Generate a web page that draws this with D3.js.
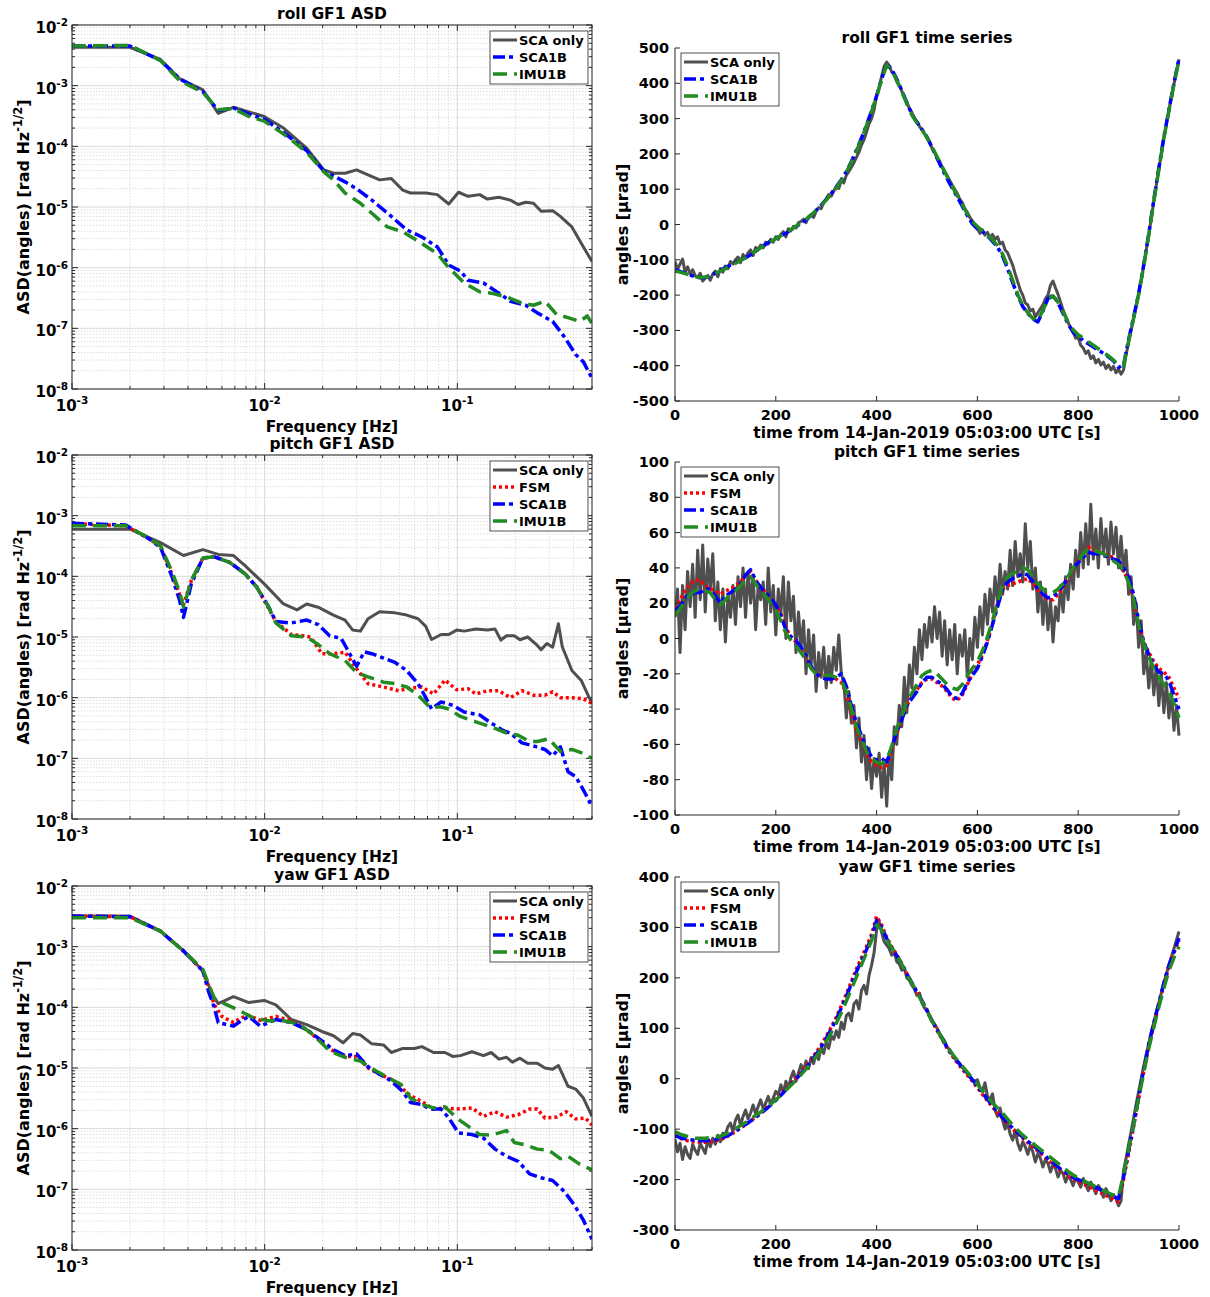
<!DOCTYPE html>
<html>
<head>
<meta charset="utf-8">
<script src="https://cdn.jsdelivr.net/npm/d3@7"></script>
<style>
  body { margin: 0; background: #fff; }
  text { font-family: "DejaVu Sans", sans-serif; font-weight: bold; fill: #000; }
</style>
</head>
<body>
<svg id="fig" width="1210" height="1297"></svg>
<script>
// ---------- tick labels ----------
const asdFreqTickExps = [-3, -2, -1];
const asdValTickExps = [-8, -7, -6, -5, -4, -3, -2];
const timeTicks = [0, 200, 400, 600, 800, 1000];
const rollTicks = [-500, -400, -300, -200, -100, 0, 100, 200, 300, 400, 500];
const pitchTicks = [-100, -80, -60, -40, -20, 0, 20, 40, 60, 80, 100];
const yawTicks = [-300, -200, -100, 0, 100, 200, 300, 400];

// ---------- roll ASD [rad/sqrt(Hz)] ----------
const rollAsdScaOnlyFreq = [0.001, 0.002, 0.00288, 0.00362, 0.00478, 0.00574, 0.00689, 0.00828, 0.00995, 0.01253, 0.01652, 0.02029, 0.02276, 0.02613, 0.03, 0.0344, 0.0395, 0.0454, 0.0521, 0.0571, 0.0686, 0.0787, 0.0903, 0.1014, 0.1137, 0.1306, 0.1432, 0.1644, 0.1886, 0.2068, 0.2266, 0.2484, 0.2722, 0.3124, 0.3425, 0.3931, 0.4513, 0.5];
const rollAsdScaOnly = [4.3e-3, 4.3e-3, 2.7e-3, 1.3e-3, 8.5e-4, 3.5e-4, 4.4e-4, 3.7e-4, 3.1e-4, 2.0e-4, 9.3e-5, 4.1e-5, 3.6e-5, 3.6e-5, 4.1e-5, 3.4e-5, 2.8e-5, 2.95e-5, 1.9e-5, 1.7e-5, 1.7e-5, 1.6e-5, 1.12e-5, 1.75e-5, 1.5e-5, 1.6e-5, 1.35e-5, 1.45e-5, 1.3e-5, 1.1e-5, 1.2e-5, 1.15e-5, 8.5e-6, 8.7e-6, 7.0e-6, 4.7e-6, 2.2e-6, 1.26e-6];
const rollAsdSca1bFreq = [0.001, 0.002, 0.00288, 0.00362, 0.00478, 0.00574, 0.00689, 0.00828, 0.00995, 0.01253, 0.01652, 0.02029, 0.02613, 0.03, 0.036, 0.0454, 0.0546, 0.0655, 0.0787, 0.0903, 0.1037, 0.1137, 0.1367, 0.1644, 0.1886, 0.2266, 0.26, 0.3124, 0.3586, 0.4116, 0.4513, 0.5];
const rollAsdSca1b = [4.5e-3, 4.5e-3, 2.6e-3, 1.3e-3, 8.0e-4, 3.9e-4, 4.3e-4, 3.4e-4, 2.8e-4, 1.7e-4, 8.5e-5, 3.9e-5, 2.6e-5, 2.0e-5, 1.3e-5, 7.0e-6, 4.2e-6, 3.2e-6, 2.2e-6, 1.1e-6, 8.8e-7, 6.2e-7, 5.6e-7, 3.8e-7, 2.8e-7, 2.4e-7, 1.8e-7, 1.3e-7, 7.3e-8, 3.7e-8, 2.8e-8, 1.5e-8];
const rollAsdImu1bFreq = [0.001, 0.002, 0.00288, 0.00362, 0.00478, 0.00574, 0.00689, 0.00828, 0.00995, 0.01253, 0.01652, 0.02029, 0.02276, 0.02613, 0.0314, 0.036, 0.0433, 0.0521, 0.0655, 0.0787, 0.0903, 0.1086, 0.1306, 0.1499, 0.1802, 0.2164, 0.2484, 0.285, 0.3271, 0.3754, 0.431, 0.4725, 0.5];
const rollAsdImu1b = [4.5e-3, 4.6e-3, 2.6e-3, 1.2e-3, 7.8e-4, 4.0e-4, 4.2e-4, 3.1e-4, 2.6e-4, 1.6e-4, 8.0e-5, 3.8e-5, 2.8e-5, 1.7e-5, 1.15e-5, 7.9e-6, 4.7e-6, 3.9e-6, 2.5e-6, 1.7e-6, 1.0e-6, 5.6e-7, 4.0e-7, 3.8e-7, 3.3e-7, 2.6e-7, 2.4e-7, 2.8e-7, 1.7e-7, 1.5e-7, 1.3e-7, 1.6e-7, 1.2e-7];

// ---------- pitch ASD ----------
const pitchAsdScaOnlyFreq = [0.001, 0.002, 0.00288, 0.00379, 0.00478, 0.00574, 0.00689, 0.00791, 0.00995, 0.01253, 0.01472, 0.01652, 0.01894, 0.02276, 0.02613, 0.02865, 0.0314, 0.0344, 0.0395, 0.0475, 0.0546, 0.0625, 0.0686, 0.0735, 0.0824, 0.0903, 0.0991, 0.1086, 0.1247, 0.1432, 0.157, 0.1682, 0.1802, 0.1975, 0.2115, 0.2318, 0.2541, 0.2722, 0.2916, 0.3124, 0.3347, 0.3504, 0.3931, 0.441, 0.4834, 0.5];
const pitchAsdScaOnly = [6.0e-4, 6.0e-4, 3.6e-4, 2.2e-4, 2.75e-4, 2.3e-4, 2.2e-4, 1.5e-4, 7.5e-5, 3.5e-5, 2.8e-5, 3.5e-5, 3.1e-5, 2.3e-5, 1.9e-5, 1.3e-5, 1.25e-5, 2.0e-5, 2.6e-5, 2.5e-5, 2.3e-5, 2.0e-5, 1.5e-5, 9.1e-6, 1.1e-5, 1.1e-5, 1.3e-5, 1.25e-5, 1.35e-5, 1.3e-5, 1.35e-5, 8.9e-6, 1.05e-5, 1.05e-5, 9e-6, 1.0e-5, 7.8e-6, 6.2e-6, 7.8e-6, 6.8e-6, 1.65e-5, 6.9e-6, 2.8e-6, 1.9e-6, 1.0e-6, 8.5e-7];
const pitchAsdFsmFreq = [0.001, 0.0019, 0.0025, 0.00288, 0.0033, 0.00362, 0.00379, 0.00416, 0.00478, 0.00548, 0.00658, 0.00791, 0.00908, 0.0104, 0.01143, 0.01374, 0.01578, 0.0173, 0.01983, 0.02276, 0.02613, 0.03, 0.0344, 0.0414, 0.0497, 0.0571, 0.0655, 0.0752, 0.0863, 0.0991, 0.1137, 0.1247, 0.1432, 0.1644, 0.1886, 0.2164, 0.2484, 0.285, 0.3124, 0.3425, 0.3931, 0.4513, 0.5];
const pitchAsdFsm = [7.4e-4, 6.8e-4, 4.2e-4, 3.1e-4, 1.1e-4, 5.0e-5, 3.4e-5, 8.5e-5, 2.0e-4, 2.1e-4, 1.7e-4, 1.1e-4, 6.7e-5, 3.1e-5, 1.8e-5, 1.1e-5, 1.05e-5, 1.0e-5, 5.3e-6, 5.3e-6, 5.6e-6, 3.0e-6, 1.7e-6, 1.5e-6, 1.3e-6, 1.45e-6, 1.5e-6, 1.15e-6, 1.95e-6, 1.35e-6, 1.4e-6, 1.15e-6, 1.3e-6, 1.3e-6, 1.0e-6, 1.3e-6, 1.1e-6, 1.1e-6, 1.25e-6, 1.0e-6, 1.0e-6, 9.6e-7, 8e-7];
const pitchAsdSca1bFreq = [0.001, 0.0019, 0.0025, 0.00288, 0.0033, 0.00362, 0.00379, 0.00416, 0.00478, 0.00548, 0.00658, 0.00791, 0.00908, 0.0104, 0.01143, 0.01374, 0.01652, 0.01894, 0.02174, 0.02495, 0.02674, 0.03, 0.0329, 0.036, 0.0414, 0.0475, 0.0546, 0.0625, 0.0686, 0.0735, 0.0824, 0.0946, 0.1086, 0.1306, 0.1499, 0.1721, 0.1886, 0.2164, 0.2484, 0.285, 0.3124, 0.3425, 0.3754, 0.4116, 0.4513, 0.5];
const pitchAsdSca1b = [7.5e-4, 7.0e-4, 4.2e-4, 3.0e-4, 1.0e-4, 4.0e-5, 2.1e-5, 7.5e-5, 2.0e-4, 2.1e-4, 1.7e-4, 1.1e-4, 6.7e-5, 3.3e-5, 1.8e-5, 1.7e-5, 1.9e-5, 1.6e-5, 1.05e-5, 9.5e-6, 6.4e-6, 3.3e-6, 5.7e-6, 5.3e-6, 4.5e-6, 3.8e-6, 2.8e-6, 1.7e-6, 1.0e-6, 6.5e-7, 8.5e-7, 7.5e-7, 5.8e-7, 5.2e-7, 3.8e-7, 2.9e-7, 2.6e-7, 1.8e-7, 1.6e-7, 1.4e-7, 1.1e-7, 1.55e-7, 6e-8, 5e-8, 3e-8, 1.6e-8];
const pitchAsdImu1bFreq = [0.001, 0.0019, 0.0025, 0.00288, 0.0033, 0.00362, 0.00379, 0.00416, 0.00478, 0.00548, 0.00658, 0.00791, 0.00908, 0.0104, 0.01143, 0.01374, 0.01652, 0.01894, 0.02174, 0.02613, 0.03, 0.0344, 0.0414, 0.0475, 0.0546, 0.0625, 0.0718, 0.0824, 0.0903, 0.1037, 0.1247, 0.1499, 0.1802, 0.2068, 0.2372, 0.26, 0.2984, 0.3425, 0.3931, 0.4513, 0.5];
const pitchAsdImu1b = [6.8e-4, 6.8e-4, 4.3e-4, 3.2e-4, 1.2e-4, 5.5e-5, 3.1e-5, 8.5e-5, 2.0e-4, 2.1e-4, 1.7e-4, 1.1e-4, 6.7e-5, 3.3e-5, 1.7e-5, 1.05e-5, 1.0e-5, 7.5e-6, 5.3e-6, 4.1e-6, 2.6e-6, 2.2e-6, 1.8e-6, 1.7e-6, 1.5e-6, 1.1e-6, 7.0e-7, 7.0e-7, 6.5e-7, 4.9e-7, 4.0e-7, 3.3e-7, 2.6e-7, 2.4e-7, 1.9e-7, 1.9e-7, 2.1e-7, 1.3e-7, 1.4e-7, 1.2e-7, 1.0e-7];

// ---------- yaw ASD ----------
const yawAsdScaOnlyFreq = [0.001, 0.002, 0.00288, 0.00379, 0.00478, 0.00536, 0.00574, 0.00689, 0.00828, 0.00995, 0.01143, 0.01374, 0.01652, 0.01983, 0.02276, 0.02553, 0.02865, 0.0314, 0.036, 0.0414, 0.0454, 0.0521, 0.0598, 0.0655, 0.0752, 0.0863, 0.0946, 0.1037, 0.1191, 0.1367, 0.1499, 0.1644, 0.1802, 0.193, 0.2115, 0.2318, 0.26, 0.285, 0.3124, 0.3347, 0.3754, 0.4116, 0.4513, 0.5];
const yawAsdScaOnly = [3.2e-3, 3.2e-3, 1.8e-3, 8.5e-4, 4.0e-4, 1.6e-4, 1.15e-4, 1.5e-4, 1.2e-4, 1.3e-4, 1.1e-4, 6.3e-5, 5.2e-5, 4.0e-5, 3.4e-5, 2.6e-5, 3.7e-5, 3.5e-5, 2.5e-5, 2.4e-5, 1.8e-5, 2.1e-5, 2.1e-5, 2.25e-5, 1.8e-5, 1.8e-5, 1.55e-5, 1.6e-5, 1.85e-5, 1.6e-5, 1.8e-5, 1.4e-5, 1.5e-5, 1.25e-5, 1.45e-5, 1.2e-5, 1.2e-5, 1.0e-5, 9.5e-6, 1.1e-5, 5.0e-6, 4.5e-6, 3.2e-6, 1.6e-6];
const yawAsdFsmFreq = [0.001, 0.002, 0.00288, 0.00379, 0.00478, 0.00512, 0.00548, 0.006, 0.00689, 0.00755, 0.00828, 0.0095, 0.01143, 0.01374, 0.01652, 0.01983, 0.02276, 0.02613, 0.03, 0.0344, 0.0395, 0.0454, 0.0521, 0.0571, 0.0655, 0.0752, 0.0863, 0.0991, 0.1191, 0.1367, 0.157, 0.1802, 0.2068, 0.2372, 0.26, 0.285, 0.3271, 0.3669, 0.4116, 0.4617, 0.5];
const yawAsdFsm = [3.2e-3, 3.1e-3, 1.8e-3, 8.5e-4, 4.0e-4, 2.1e-4, 1.1e-4, 7.1e-5, 5.6e-5, 6.7e-5, 7.3e-5, 6.1e-5, 7.1e-5, 6.0e-5, 4.3e-5, 2.6e-5, 1.9e-5, 1.55e-5, 1.55e-5, 1.0e-5, 7.9e-6, 6.5e-6, 4.5e-6, 3.5e-6, 2.8e-6, 2.1e-6, 2.2e-6, 2.1e-6, 2.2e-6, 1.6e-6, 1.9e-6, 1.55e-6, 1.7e-6, 2.1e-6, 2.1e-6, 1.5e-6, 1.55e-6, 1.9e-6, 1.45e-6, 1.5e-6, 1.15e-6];
const yawAsdSca1bFreq = [0.001, 0.002, 0.00288, 0.00379, 0.00478, 0.00512, 0.00548, 0.00574, 0.00689, 0.00755, 0.00828, 0.0095, 0.01143, 0.01374, 0.01652, 0.01983, 0.02276, 0.02613, 0.03, 0.0344, 0.0395, 0.0454, 0.0521, 0.0571, 0.0655, 0.0718, 0.0824, 0.0903, 0.1014, 0.1191, 0.1367, 0.157, 0.1802, 0.2068, 0.2372, 0.2722, 0.3124, 0.3586, 0.4022, 0.4513, 0.5];
const yawAsdSca1b = [3.2e-3, 3.1e-3, 1.8e-3, 8.5e-4, 4.0e-4, 1.8e-4, 9.9e-5, 5.6e-5, 4.9e-5, 6.0e-5, 7.1e-5, 4.9e-5, 6.3e-5, 5.6e-5, 4.3e-5, 2.8e-5, 2.0e-5, 1.6e-5, 1.7e-5, 1.05e-5, 7.9e-6, 6.1e-6, 4.1e-6, 2.7e-6, 2.5e-6, 2.1e-6, 2.1e-6, 1.5e-6, 8.5e-7, 8e-7, 7e-7, 4.6e-7, 3.5e-7, 2.9e-7, 1.8e-7, 1.55e-7, 1.4e-7, 9.3e-8, 5.7e-8, 3.1e-8, 1.5e-8];
const yawAsdImu1bFreq = [0.001, 0.002, 0.00288, 0.00379, 0.00478, 0.00548, 0.006, 0.00722, 0.00867, 0.0104, 0.01253, 0.01506, 0.01809, 0.02174, 0.02613, 0.0314, 0.0377, 0.0454, 0.0509, 0.0571, 0.0655, 0.0752, 0.0863, 0.0991, 0.1137, 0.1306, 0.1499, 0.1802, 0.1975, 0.2266, 0.26, 0.2984, 0.3425, 0.3754, 0.431, 0.5];
const yawAsdImu1b = [3.0e-3, 3.0e-3, 1.8e-3, 8.5e-4, 4.2e-4, 1.4e-4, 1.2e-4, 9.2e-5, 6.8e-5, 6.0e-5, 6.0e-5, 5.3e-5, 3.4e-5, 1.9e-5, 1.5e-5, 1.3e-5, 9e-6, 6.5e-6, 5.4e-6, 3.2e-6, 2.5e-6, 2.2e-6, 2.3e-6, 1.5e-6, 1.1e-6, 8e-7, 7.8e-7, 9.3e-7, 5.9e-7, 5.4e-7, 4.6e-7, 4.4e-7, 3.2e-7, 3.5e-7, 2.6e-7, 2.1e-7];

// ---------- time series [µrad]; SCA-only sampled every 5 s, others every 10 s ----------
const tsTimeFine = d3.range(0, 1001, 5);
const tsTimeCoarse = d3.range(0, 1001, 10);

const rollTsScaOnly = [
  -105,-128,-112,-98,-135,-120,-140,-128,-145,-150,-138,-160,-152,-145,-158,-140,-132,-148,-125,-135,
  -118,-125,-105,-112,-100,-92,-108,-85,-95,-80,-72,-88,-65,-70,-58,-66,-50,-55,-42,-50,
  -35,-42,-28,-20,-35,-12,-18,-5,-10,5,8,15,5,22,28,20,38,48,45,62,
  72,85,80,95,108,102,125,118,140,150,162,175,190,205,225,240,262,285,300,325,
  365,390,420,448,460,450,432,425,405,395,378,360,345,330,318,300,292,278,268,258,
  245,235,215,205,188,180,162,150,138,125,112,100,88,72,62,45,35,20,10,-5,
  -12,-25,-15,-30,-22,-38,-28,-42,-35,-55,-50,-72,-80,-98,-115,-140,-162,-185,-200,-222,
  -228,-245,-240,-262,-250,-238,-228,-210,-200,-172,-160,-180,-198,-220,-242,-260,-278,-292,-305,-322,
  -320,-342,-350,-365,-358,-380,-372,-392,-382,-398,-390,-408,-398,-412,-402,-420,-410,-424,-412,-368,
  -335,-300,-265,-232,-195,-158,-115,-72,-30,18,65,112,158,200,245,285,325,360,398,435,
  468];
const rollTsSca1b = [
  -128,-133,-138,-143,-148,-151,-150,-145,-138,-130,
  -122,-115,-108,-101,-94,-86,-76,-66,-56,-47,
  -39,-31,-25,-15,-6,3,13,26,40,55,
  71,88,107,127,150,178,211,245,282,322,
  364,412,455,440,412,380,345,312,290,270,
  248,218,188,158,130,103,78,52,25,2,
  -12,-20,-32,-48,-64,-90,-125,-165,-202,-232,
  -252,-268,-276,-245,-210,-200,-222,-252,-282,-305,
  -318,-328,-338,-347,-356,-365,-375,-386,-405,-398,
  -326,-262,-195,-115,-26,70,160,248,325,400,
  470];
const rollTsImu1b = [
  -132,-135,-139,-143,-147,-150,-149,-145,-139,-132,
  -125,-118,-110,-102,-94,-85,-75,-66,-57,-48,
  -40,-32,-24,-15,-5,5,15,27,40,54,
  69,86,104,125,148,176,208,243,280,320,
  362,410,452,438,408,376,342,310,288,268,
  246,220,192,164,136,108,82,56,30,8,
  -6,-18,-30,-44,-60,-84,-118,-158,-198,-230,
  -250,-266,-272,-243,-212,-202,-220,-248,-276,-298,
  -312,-322,-332,-342,-352,-362,-372,-384,-398,-400,
  -330,-265,-198,-118,-30,65,155,245,322,398,
  465];

const pitchTsScaOnly = [
  12,28,-8,30,5,38,18,42,12,50,22,53,15,45,28,48,10,32,5,28,
  -2,25,12,30,8,35,18,40,12,38,20,36,5,30,22,32,8,40,15,30,
  2,28,14,35,0,32,10,24,-8,15,-5,10,-20,5,-15,2,-30,-8,-22,-5,
  -28,-10,-25,-5,-18,2,-20,-25,-45,-30,-48,-38,-62,-45,-70,-55,-80,-62,-85,-68,
  -78,-65,-90,-70,-95,-65,-80,-50,-60,-38,-50,-22,-42,-15,-28,-5,-20,5,-12,8,
  -5,12,-2,18,0,15,-10,10,-15,5,-12,8,-20,2,-10,5,-22,0,-12,12,
  -5,18,2,25,8,28,15,35,20,42,25,38,28,50,30,55,35,48,32,65,
  40,55,28,40,15,32,8,28,5,22,-2,18,10,30,15,35,22,42,28,50,
  35,60,40,65,42,76,45,62,40,68,48,62,42,66,48,63,40,58,38,50,
  25,35,8,20,-5,10,-20,-8,-28,-12,-32,-15,-38,-20,-42,-25,-45,-30,-52,-38,
  -55];
const pitchTsFsm = [
  17,22,27,31,33,33,30,28,27,25,
  27,28,30,32,36,38,33,29,26,22,
  19,14,6,1,-2,-6,-11,-16,-20,-21,
  -22,-22,-23,-25,-31,-42,-52,-58,-65,-70,
  -72,-73,-72,-64,-54,-46,-38,-33,-29,-25,
  -23,-23,-25,-27,-30,-34,-35,-32,-26,-20,
  -15,-9,-1,8,20,28,30,31,32,33,
  34,31,27,24,22,22,25,29,34,39,
  44,48,52,50,49,48,47,46,43,38,
  33,22,8,-2,-8,-13,-17,-19,-22,-28,
  -34];
const pitchTsSca1b = [
  16,18,23,25,26,26,28,28,24,20,
  24,26,28,31,36,39,33,29,26,23,
  19,13,5,1,-1,-5,-10,-16,-20,-22,
  -23,-23,-22,-20,-27,-38,-48,-55,-62,-67,
  -69,-68,-70,-62,-53,-46,-38,-34,-30,-25,
  -22,-22,-24,-26,-29,-33,-34,-31,-25,-21,
  -17,-10,-2,8,18,28,32,34,35,37,
  36,32,28,25,23,24,26,30,35,40,
  43,46,49,48,48,47,46,45,44,40,
  35,25,10,-2,-9,-15,-19,-20,-24,-32,
  -40];
const pitchTsImu1b = [
  13,17,21,25,27,28,27,26,22,19,
  22,25,27,30,33,35,31,27,24,20,
  16,10,3,-1,-4,-8,-12,-17,-20,-21,
  -21,-21,-22,-24,-30,-40,-50,-57,-64,-68,
  -70,-71,-69,-61,-51,-44,-36,-31,-26,-21,
  -19,-18,-20,-23,-26,-28,-29,-26,-21,-17,
  -13,-7,1,10,21,30,35,37,38,40,
  39,35,31,28,26,26,28,31,35,40,
  44,48,51,50,49,48,46,44,42,38,
  32,22,8,-3,-10,-17,-22,-26,-30,-37,
  -45];

const yawTsScaOnly = [
  -120,-145,-128,-160,-135,-150,-158,-130,-142,-150,-128,-138,-148,-122,-135,-118,-130,-112,-125,-108,
  -110,-95,-88,-105,-82,-72,-92,-75,-62,-80,-68,-52,-70,-55,-42,-60,-48,-35,-52,-38,
  -25,-32,-12,-28,-5,-18,2,15,-5,12,28,15,35,20,42,30,50,38,62,50,
  72,60,85,78,95,82,112,98,125,130,115,148,155,138,175,185,168,205,225,250,
  295,312,290,272,265,258,245,250,232,228,215,220,200,195,185,178,165,170,150,140,
  138,125,115,108,100,90,82,75,62,58,50,42,35,30,22,18,10,4,-2,-5,
  -2,-18,-25,-8,-35,-42,-30,-62,-75,-58,-82,-100,-88,-110,-122,-102,-128,-142,-125,-135,
  -150,-132,-145,-165,-148,-158,-175,-160,-168,-185,-170,-178,-195,-182,-188,-205,-192,-200,-212,-195,
  -205,-215,-198,-210,-222,-205,-215,-228,-212,-220,-235,-218,-228,-242,-230,-238,-252,-242,-182,-158,
  -130,-105,-78,-50,-25,0,25,48,70,92,112,132,150,170,190,208,225,242,258,275,
  292];
const yawTsFsm = [
  -112,-118,-122,-124,-125,-126,-126,-125,-123,-121,
  -117,-111,-105,-98,-91,-84,-76,-68,-59,-50,
  -41,-31,-20,-9,2,13,25,38,52,67,
  84,102,122,144,168,193,218,240,262,286,
  322,305,280,262,246,228,208,190,172,154,
  134,114,96,78,60,45,32,19,7,-5,
  -18,-31,-44,-56,-68,-79,-90,-100,-109,-118,
  -127,-135,-143,-152,-161,-170,-178,-186,-193,-199,
  -204,-209,-214,-219,-224,-229,-234,-239,-244,-200,
  -148,-95,-40,14,64,106,146,186,222,250,
  275];
const yawTsSca1b = [
  -113,-117,-119,-121,-122,-123,-123,-122,-121,-119,
  -115,-110,-104,-97,-91,-84,-77,-69,-61,-52,
  -43,-33,-22,-11,-1,10,22,35,48,63,
  80,98,118,140,163,188,212,234,256,280,
  314,300,278,260,244,228,208,190,172,155,
  135,115,98,80,62,47,35,22,10,-2,
  -15,-28,-41,-53,-66,-77,-88,-98,-107,-116,
  -124,-132,-140,-149,-158,-167,-175,-183,-190,-196,
  -200,-204,-208,-213,-218,-223,-228,-233,-238,-195,
  -143,-90,-35,18,68,110,150,190,225,252,
  279];
const yawTsImu1b = [
  -105,-110,-113,-116,-118,-118,-118,-117,-116,-114,
  -110,-105,-99,-93,-87,-80,-73,-66,-58,-50,
  -42,-33,-23,-13,-3,8,19,31,44,58,
  74,91,110,131,154,178,202,226,250,274,
  305,296,276,260,245,227,207,189,171,153,
  134,114,97,80,63,49,37,25,13,1,
  -11,-24,-36,-48,-58,-68,-80,-92,-102,-112,
  -120,-128,-136,-144,-152,-160,-168,-176,-184,-191,
  -197,-202,-207,-212,-217,-222,-227,-231,-234,-190,
  -140,-90,-38,12,60,102,142,180,214,240,
  262];

// ---------- line styles ----------
const seriesStyle = {
  'SCA only': { color: '#4f4f4f', width: 3,   dash: null },
  'FSM':      { color: '#ff0000', width: 3.5, dash: '3,3' },
  'SCA1B':    { color: '#0000ff', width: 3.5, dash: '12,4,4,4' },
  'IMU1B':    { color: '#228b22', width: 3.5, dash: '14,7' }
};

const svg = d3.select('#fig');
const axisColor = '#262626';
let clipId = 0;

function addClip(x, y, w, h) {
  const id = 'clip' + (clipId++);
  svg.append('clipPath').attr('id', id).append('rect')
    .attr('x', x).attr('y', y).attr('width', w).attr('height', h);
  return 'url(#' + id + ')';
}

function styleLine(sel, name) {
  const s = seriesStyle[name];
  sel.attr('fill', 'none').attr('stroke', s.color).attr('stroke-width', s.width)
    .attr('stroke-linejoin', 'round')
    .attr('stroke-dasharray', s.dash);
}

function pow10(sel, exp) {
  sel.text('10');
  sel.append('tspan').attr('dy', -7).attr('font-size', 10.5).text(String(exp));
}

function drawLegend(x, y, names) {
  const rowH = 17, w = 98, h = names.length * rowH + 2;
  const g = svg.append('g');
  g.append('rect').attr('x', x).attr('y', y).attr('width', w).attr('height', h)
    .attr('fill', '#fff').attr('stroke', axisColor).attr('stroke-width', 0.8);
  names.forEach((n, i) => {
    const cy = y + 9 + i * rowH;
    g.append('line').attr('x1', x + 3).attr('x2', x + 27).attr('y1', cy).attr('y2', cy)
      .call(styleLine, n);
    g.append('text').attr('x', x + 29).attr('y', cy + 5).attr('font-size', 13).text(n);
  });
}

// ---------- ASD panel (log-log, boxed, gridded) ----------
function drawAsd(top, title, series) {
  const x0 = 72, x1 = 592, y0 = top, y1 = top + 364;
  const x = d3.scaleLog().domain([1e-3, 0.5]).range([x0, x1]);
  const y = d3.scaleLog().domain([1e-8, 1e-2]).range([y1, y0]);
  const g = svg.append('g');
  const isMajor = v => Math.abs(Math.log10(v) - Math.round(Math.log10(v))) < 1e-6;

  // minor + major grid
  x.ticks().forEach(v => {
    g.append('line').attr('x1', x(v)).attr('x2', x(v)).attr('y1', y0).attr('y2', y1)
      .attr('stroke', isMajor(v) ? '#dadada' : '#dedede').attr('stroke-width', 1)
      .attr('stroke-dasharray', isMajor(v) ? null : '1.5,1.5');
  });
  y.ticks().forEach(v => {
    g.append('line').attr('x1', x0).attr('x2', x1).attr('y1', y(v)).attr('y2', y(v))
      .attr('stroke', isMajor(v) ? '#dadada' : '#dedede').attr('stroke-width', 1)
      .attr('stroke-dasharray', isMajor(v) ? null : '1.5,1.5');
  });

  // inward ticks on all sides
  x.ticks().forEach(v => {
    const L = isMajor(v) ? 6 : 3;
    g.append('line').attr('x1', x(v)).attr('x2', x(v)).attr('y1', y1).attr('y2', y1 - L).attr('stroke', axisColor);
    g.append('line').attr('x1', x(v)).attr('x2', x(v)).attr('y1', y0).attr('y2', y0 + L).attr('stroke', axisColor);
  });
  y.ticks().forEach(v => {
    const L = isMajor(v) ? 6 : 3;
    g.append('line').attr('x1', x0).attr('x2', x0 + L).attr('y1', y(v)).attr('y2', y(v)).attr('stroke', axisColor);
    g.append('line').attr('x1', x1).attr('x2', x1 - L).attr('y1', y(v)).attr('y2', y(v)).attr('stroke', axisColor);
  });

  // curves
  const clip = addClip(x0, y0, x1 - x0, y1 - y0);
  const line = d3.line().x(d => x(d[0])).y(d => y(d[1]));
  const cg = g.append('g').attr('clip-path', clip);
  series.forEach(s => {
    cg.append('path').datum(d3.zip(s.freq, s.val)).attr('d', line).call(styleLine, s.name);
  });

  g.append('rect').attr('x', x0).attr('y', y0).attr('width', x1 - x0).attr('height', y1 - y0)
    .attr('fill', 'none').attr('stroke', axisColor).attr('stroke-width', 1);

  // tick labels
  asdFreqTickExps.forEach(e => {
    g.append('text').attr('x', x(Math.pow(10, e))).attr('y', y1 + 22)
      .attr('text-anchor', 'middle').attr('font-size', 15).call(pow10, e);
  });
  asdValTickExps.forEach(e => {
    g.append('text').attr('x', x0 - 4).attr('y', y(Math.pow(10, e)) + 8)
      .attr('text-anchor', 'end').attr('font-size', 15).call(pow10, e);
  });

  // labels + title
  g.append('text').attr('x', (x0 + x1) / 2).attr('y', y0 - 6).attr('text-anchor', 'middle')
    .attr('font-size', 15.5).text(title);
  g.append('text').attr('x', (x0 + x1) / 2).attr('y', y1 + 43).attr('text-anchor', 'middle')
    .attr('font-size', 15.5).text('Frequency [Hz]');
  const yl = g.append('text').attr('transform', `translate(29,${(y0 + y1) / 2}) rotate(-90)`)
    .attr('text-anchor', 'middle').attr('font-size', 16);
  yl.append('tspan').text('ASD(angles) [rad Hz');
  yl.append('tspan').attr('dy', -7).attr('font-size', 11.5).text('-1/2');
  yl.append('tspan').attr('dy', 7).text(']');

  drawLegend(x1 - 102, y0 + 6, series.map(s => s.name));
}

// ---------- time-series panel ----------
function drawTs(top, title, yDomain, yTicks, series) {
  const x0 = 675, x1 = 1179, y0 = top, y1 = top + 353;
  const x = d3.scaleLinear().domain([0, 1000]).range([x0, x1]);
  const y = d3.scaleLinear().domain(yDomain).range([y1, y0]);
  const g = svg.append('g');

  const clip = addClip(x0, y0 - 5, x1 - x0 + 5, y1 - y0 + 5);
  const line = d3.line().x(d => x(d[0])).y(d => y(d[1]));
  const cg = g.append('g').attr('clip-path', clip);
  series.forEach(s => {
    cg.append('path').datum(d3.zip(s.t, s.val)).attr('d', line).call(styleLine, s.name);
  });

  g.append('line').attr('x1', x0).attr('x2', x0).attr('y1', y0).attr('y2', y1).attr('stroke', axisColor);
  g.append('line').attr('x1', x0).attr('x2', x1).attr('y1', y1).attr('y2', y1).attr('stroke', axisColor);
  timeTicks.forEach(v => {
    g.append('line').attr('x1', x(v)).attr('x2', x(v)).attr('y1', y1).attr('y2', y1 - 5).attr('stroke', axisColor);
    g.append('text').attr('x', x(v)).attr('y', y1 + 19).attr('text-anchor', 'middle')
      .attr('font-size', 14.5).text(v);
  });
  yTicks.forEach(v => {
    g.append('line').attr('x1', x0).attr('x2', x0 + 5).attr('y1', y(v)).attr('y2', y(v)).attr('stroke', axisColor);
    g.append('text').attr('x', x0 - 6).attr('y', y(v) + 5).attr('text-anchor', 'end')
      .attr('font-size', 14.5).text(v);
  });

  g.append('text').attr('x', (x0 + x1) / 2).attr('y', y0 - 5).attr('text-anchor', 'middle')
    .attr('font-size', 15.5).text(title);
  g.append('text').attr('x', (x0 + x1) / 2).attr('y', y1 + 37).attr('text-anchor', 'middle')
    .attr('font-size', 15.5).text('time from 14-Jan-2019 05:03:00 UTC [s]');
  g.append('text').attr('transform', `translate(628,${(y0 + y1) / 2}) rotate(-90)`)
    .attr('text-anchor', 'middle').attr('font-size', 16).text('angles [\u00b5rad]');

  drawLegend(x0 + 6, y0 + 5, series.map(s => s.name));
}

// ---------- draw ----------
drawAsd(25, 'roll GF1 ASD', [
  { name: 'SCA only', freq: rollAsdScaOnlyFreq, val: rollAsdScaOnly },
  { name: 'SCA1B', freq: rollAsdSca1bFreq, val: rollAsdSca1b },
  { name: 'IMU1B', freq: rollAsdImu1bFreq, val: rollAsdImu1b }
]);
drawAsd(455, 'pitch GF1 ASD', [
  { name: 'SCA only', freq: pitchAsdScaOnlyFreq, val: pitchAsdScaOnly },
  { name: 'FSM', freq: pitchAsdFsmFreq, val: pitchAsdFsm },
  { name: 'SCA1B', freq: pitchAsdSca1bFreq, val: pitchAsdSca1b },
  { name: 'IMU1B', freq: pitchAsdImu1bFreq, val: pitchAsdImu1b }
]);
drawAsd(886, 'yaw GF1 ASD', [
  { name: 'SCA only', freq: yawAsdScaOnlyFreq, val: yawAsdScaOnly },
  { name: 'FSM', freq: yawAsdFsmFreq, val: yawAsdFsm },
  { name: 'SCA1B', freq: yawAsdSca1bFreq, val: yawAsdSca1b },
  { name: 'IMU1B', freq: yawAsdImu1bFreq, val: yawAsdImu1b }
]);

drawTs(48, 'roll GF1 time series', [-500, 500], rollTicks, [
  { name: 'SCA only', t: tsTimeFine, val: rollTsScaOnly },
  { name: 'SCA1B', t: tsTimeCoarse, val: rollTsSca1b },
  { name: 'IMU1B', t: tsTimeCoarse, val: rollTsImu1b }
]);
drawTs(462, 'pitch GF1 time series', [-100, 100], pitchTicks, [
  { name: 'SCA only', t: tsTimeFine, val: pitchTsScaOnly },
  { name: 'FSM', t: tsTimeCoarse, val: pitchTsFsm },
  { name: 'SCA1B', t: tsTimeCoarse, val: pitchTsSca1b },
  { name: 'IMU1B', t: tsTimeCoarse, val: pitchTsImu1b }
]);
drawTs(877, 'yaw GF1 time series', [-300, 400], yawTicks, [
  { name: 'SCA only', t: tsTimeFine, val: yawTsScaOnly },
  { name: 'FSM', t: tsTimeCoarse, val: yawTsFsm },
  { name: 'SCA1B', t: tsTimeCoarse, val: yawTsSca1b },
  { name: 'IMU1B', t: tsTimeCoarse, val: yawTsImu1b }
]);
</script>
</body>
</html>
